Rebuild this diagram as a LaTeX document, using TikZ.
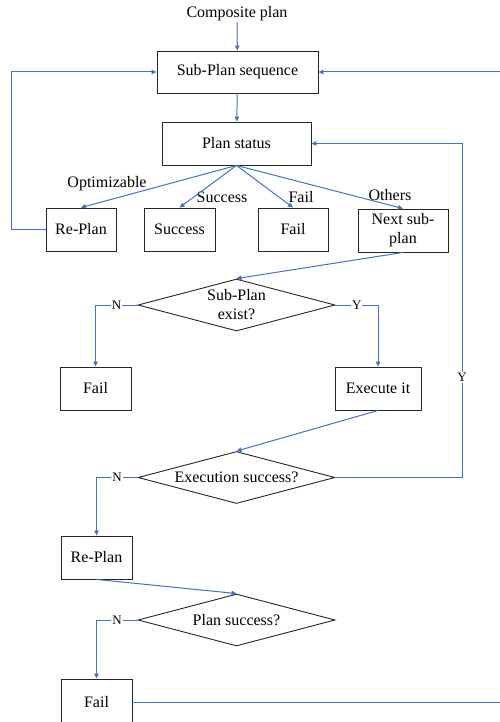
\documentclass[tikz,border=0pt]{standalone}
\usepackage{fontspec}
\setmainfont{Liberation Serif}
\usetikzlibrary{shapes.geometric,arrows.meta}
\definecolor{linkblue}{RGB}{68,114,196}
\begin{document}
\begin{tikzpicture}[x=1pt,y=-1pt,
  txt/.style={font=\fontsize{16}{19}\selectfont},
  box/.style={draw=black!85,line width=0.9pt,inner sep=0pt,align=center,txt},
  dec/.style={diamond,draw=black!85,line width=0.9pt,inner sep=0pt,aspect=3.8,minimum width=197pt,minimum height=52pt},
  flow/.style={draw=linkblue,line width=1pt,-{Triangle[length=5pt,width=4.5pt]}},
  lbl/.style={txt,inner sep=1pt},
  yn/.style={fill=white,inner sep=1pt,font=\fontsize{13}{15}\selectfont}]
\clip (0,0) rectangle (500,722);
\fill[white] (0,0) rectangle (500,722);
% nodes
\node[lbl] (cp) at (237,14) {Composite plan};
\node[box,minimum width=161pt,minimum height=42pt] (seq) at (237.5,72) {Sub-Plan sequence};
\node[box,minimum width=149pt,minimum height=43pt] (status) at (236.5,143.5) {Plan status};
\node[box,minimum width=70pt,minimum height=43pt] (rp1) at (81,229.5) {Re-Plan};
\node[box,minimum width=71pt,minimum height=43pt] (succ) at (179.5,229.5) {Success};
\node[box,minimum width=70pt,minimum height=43pt] (fail1) at (293,229.5) {Fail};
\node[box,minimum width=90pt,minimum height=43pt] (next) at (403,230.5) {Next sub-\\plan};
\node[dec,label={[txt,align=center]center:Sub-Plan\\exist?}] (d1) at (236.5,305) {};
\node[box,minimum width=71pt,minimum height=43pt] (fail2) at (95.5,388.5) {Fail};
\node[box,minimum width=86pt,minimum height=43pt] (exec) at (378,388.5) {Execute it};
\node[dec,label={[txt]center:Execution success?}] (d2) at (236.5,477.5) {};
\node[box,minimum width=71pt,minimum height=43pt] (rp2) at (96.5,557.5) {Re-Plan};
\node[dec,label={[txt]center:Plan success?}] (d3) at (236.5,620) {};
\node[box,minimum width=71pt,minimum height=46pt] (fail3) at (96.5,702) {Fail};
% branch labels
\node[lbl] (lopt) at (107,184) {Optimizable};
\node[lbl] (lsucc) at (222,197) {Success};
\node[lbl] (lfail) at (301,197) {Fail};
\node[lbl] (loth) at (390,195) {Others};
% routing coordinates
\coordinate (lx) at (11,0);
\coordinate (rx) at (462,0);
\coordinate (ox) at (520,0);
% connectors
\draw[flow] (cp) -- (seq);
\draw[flow] (seq) -- (status);
\draw[flow] (status.south) -- (rp1.north);
\draw[flow] (status.south) -- (succ.north);
\draw[flow] (status.south) -- (fail1.north);
\draw[flow] (status.south) -- (next.north);
\draw[flow] (rp1.west) -- (rp1.west -| lx) -- (seq.west -| lx) -- (seq.west);
\draw[flow] (next.south) -- (d1.north);
\draw[flow] (d1.west) -| node[yn,pos=0.25]{N} (fail2.north);
\draw[flow] (d1.east) -| node[yn,pos=0.25]{Y} (exec.north);
\draw[flow] (exec.south) -- (d2.north);
\draw[flow] (d2.east) -- (d2.east -| rx) -- node[yn,pos=0.3]{Y} (status.east -| rx) -- (status.east);
\draw[flow] (d2.west) -| node[yn,pos=0.25]{N} (rp2.north);
\draw[flow] (rp2.south) -- (d3.north);
\draw[flow] (d3.west) -| node[yn,pos=0.25]{N} (fail3.north);
\draw[flow] (fail3.east) -- (fail3.east -| ox) -- (seq.east -| ox) -- (seq.east);
\end{tikzpicture}
\end{document}
